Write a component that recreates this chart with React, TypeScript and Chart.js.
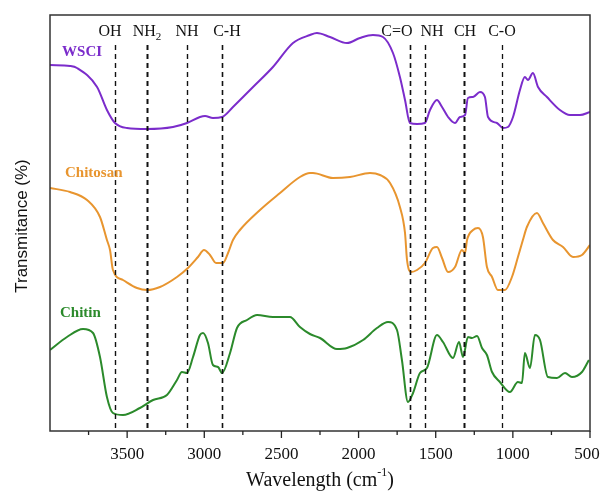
import React, { useEffect, useRef } from "react";
import Chart from "chart.js/auto";

// Wavenumbers (cm-1) and transmittance (arbitrary units)
const wsciX = [4000, 3870, 3825, 3695, 3631, 3579, 3501, 3371, 3203, 3112, 3028, 2995, 2944, 2885, 2814, 2684, 2555, 2425, 2315, 2270, 2185, 2075, 1991, 1907, 1842, 1777, 1732, 1699, 1667, 1621, 1570, 1537, 1492, 1459, 1420, 1375, 1343, 1310, 1291, 1258, 1213, 1181, 1161, 1103, 1064, 1032, 999, 954, 922, 902, 870, 837, 779, 695, 630, 565, 500];
const wsciY = [366, 365, 363, 344, 321, 308, 303, 302, 304, 308, 314, 315, 313, 314, 324, 344, 364, 388, 396, 398, 394, 388, 393, 396, 394, 378, 354, 331, 308, 307, 308, 321, 331, 324, 314, 308, 314, 316, 333, 334, 339, 334, 314, 308, 303, 304, 314, 341, 354, 351, 358, 344, 334, 321, 316, 316, 319];

const chitosanX = [4000, 3870, 3760, 3676, 3631, 3611, 3592, 3527, 3436, 3371, 3287, 3177, 3106, 3041, 3002, 2963, 2924, 2879, 2846, 2814, 2769, 2639, 2509, 2380, 2315, 2296, 2166, 2056, 1926, 1861, 1796, 1732, 1699, 1686, 1660, 1621, 1570, 1518, 1492, 1459, 1420, 1375, 1330, 1310, 1297, 1258, 1226, 1194, 1168, 1135, 1097, 1051, 1006, 967, 935, 909, 844, 805, 740, 675, 610, 552, 500];
const chitosanY = [243, 239, 231, 214, 191, 181, 161, 151, 143, 141, 144, 154, 163, 174, 181, 176, 168, 168, 178, 191, 201, 221, 238, 254, 258, 258, 253, 254, 258, 256, 248, 224, 198, 171, 159, 161, 168, 183, 184, 173, 159, 164, 181, 178, 191, 201, 203, 194, 164, 154, 141, 141, 154, 174, 191, 204, 218, 208, 191, 184, 174, 176, 186];

const chitinX = [4000, 3890, 3786, 3721, 3676, 3631, 3592, 3527, 3417, 3332, 3242, 3177, 3145, 3112, 3073, 3028, 3008, 2976, 2944, 2911, 2885, 2833, 2788, 2723, 2658, 2555, 2445, 2380, 2315, 2250, 2140, 2075, 1971, 1881, 1809, 1751, 1719, 1680, 1647, 1602, 1557, 1492, 1453, 1388, 1349, 1323, 1291, 1265, 1232, 1200, 1168, 1135, 1084, 1019, 967, 941, 922, 889, 857, 824, 773, 714, 662, 617, 552, 507];
const chitinY = [81, 94, 102, 98, 74, 34, 18, 16, 23, 31, 36, 51, 59, 58, 74, 96, 98, 88, 66, 64, 58, 78, 103, 111, 116, 114, 114, 104, 97, 93, 82, 83, 91, 103, 109, 101, 71, 29, 38, 58, 63, 96, 89, 73, 89, 74, 94, 93, 95, 83, 76, 59, 49, 39, 49, 48, 78, 63, 96, 91, 54, 53, 58, 54, 59, 71];

const seriesNames = ["WSCI", "Chitosan", "Chitin"];
const seriesColors = ["#7b2ccb", "#e8952f", "#2b8a2b"];
const seriesLabelX = [3922, 3903, 3935];
const seriesLabelY = [379, 258, 118];

const bandPositions = [3580, 3370, 3110, 2885, 1667, 1570, 1317, 1070];
const bandLabels = ["OH", "NH2", "NH", "C-H", "C=O", "NH", "CH", "C-O"];
const bandLabelX = [3611, 3371, 3112, 2853, 1751, 1524, 1310, 1071];
const bandWidths = [1.4, 2, 1.4, 1.6, 1.6, 1.4, 2, 1.3];
const bandTop = 386;

const majorTicks = [3500, 3000, 2500, 2000, 1500, 1000, 500];
const minorTicks = [3750, 3250, 2750, 2250, 1750, 1250, 750];

const xTitle = "Wavelength (cm";
const yTitle = "Transmitance (%)";

function toPoints(xs: number[], ys: number[]) {
  return xs.map((x, i) => ({ x, y: ys[i] }));
}

const decorPlugin = {
  id: "decor",
  afterDatasetsDraw(chart: any) {
    const { ctx, chartArea } = chart;
    const xs = chart.scales.x;
    const ys = chart.scales.y;
    const { left, right, top, bottom } = chartArea;
    ctx.save();

    // dashed band lines
    ctx.strokeStyle = "#111";
    ctx.setLineDash([5, 4]);
    bandPositions.forEach((p, i) => {
      const px = Math.round(xs.getPixelForValue(p)) + 0.5;
      ctx.lineWidth = bandWidths[i];
      ctx.beginPath();
      ctx.moveTo(px, ys.getPixelForValue(bandTop));
      ctx.lineTo(px, bottom);
      ctx.stroke();
    });
    ctx.setLineDash([]);

    // band labels
    ctx.fillStyle = "#111";
    ctx.textBaseline = "alphabetic";
    const labelBase = top + 21;
    bandLabels.forEach((lab, i) => {
      const cx = xs.getPixelForValue(bandLabelX[i]);
      ctx.font = '16px "Liberation Serif", "Times New Roman", serif';
      if (lab === "NH2") {
        const w1 = ctx.measureText("NH").width;
        ctx.font = '11px "Liberation Serif", "Times New Roman", serif';
        const w2 = ctx.measureText("2").width;
        const start = cx - (w1 + w2) / 2;
        ctx.textAlign = "left";
        ctx.font = '16px "Liberation Serif", "Times New Roman", serif';
        ctx.fillText("NH", start, labelBase);
        ctx.font = '11px "Liberation Serif", "Times New Roman", serif';
        ctx.fillText("2", start + w1, labelBase + 4);
      } else {
        ctx.textAlign = "center";
        ctx.fillText(lab, cx, labelBase);
      }
    });

    // series labels
    ctx.font = 'bold 15px "Liberation Serif", "Times New Roman", serif';
    ctx.textAlign = "left";
    ctx.textBaseline = "middle";
    seriesNames.forEach((n, i) => {
      ctx.fillStyle = seriesColors[i];
      ctx.fillText(n, xs.getPixelForValue(seriesLabelX[i]), ys.getPixelForValue(seriesLabelY[i]));
    });

    // frame
    ctx.strokeStyle = "#333";
    ctx.lineWidth = 1.5;
    ctx.strokeRect(left, top, right - left, bottom - top);

    // ticks
    ctx.lineWidth = 1.3;
    ctx.strokeStyle = "#222";
    majorTicks.forEach((t) => {
      const px = xs.getPixelForValue(t);
      ctx.beginPath();
      ctx.moveTo(px, bottom);
      ctx.lineTo(px, bottom + 7);
      ctx.stroke();
    });
    minorTicks.forEach((t) => {
      const px = xs.getPixelForValue(t);
      ctx.beginPath();
      ctx.moveTo(px, bottom);
      ctx.lineTo(px, bottom + 4);
      ctx.stroke();
    });

    // tick labels
    ctx.fillStyle = "#111";
    ctx.font = '17px "Liberation Serif", "Times New Roman", serif';
    ctx.textAlign = "center";
    ctx.textBaseline = "middle";
    majorTicks.forEach((t) => {
      let px = xs.getPixelForValue(t);
      if (t === 500) px -= 3;
      ctx.fillText(String(t), px, bottom + 24);
    });

    // x title
    ctx.font = '20px "Liberation Serif", "Times New Roman", serif';
    const w1 = ctx.measureText(xTitle).width;
    ctx.font = '12px "Liberation Serif", "Times New Roman", serif';
    const wSup = ctx.measureText("-1").width;
    ctx.font = '20px "Liberation Serif", "Times New Roman", serif';
    const wP = ctx.measureText(")").width;
    const total = w1 + wSup + wP;
    const cx = (left + right) / 2;
    const ty = bottom + 50;
    const sx = cx - total / 2;
    ctx.textAlign = "left";
    ctx.fillText(xTitle, sx, ty);
    ctx.font = '12px "Liberation Serif", "Times New Roman", serif';
    ctx.fillText("-1", sx + w1, ty - 8);
    ctx.font = '20px "Liberation Serif", "Times New Roman", serif';
    ctx.fillText(")", sx + w1 + wSup, ty);

    // y title
    ctx.save();
    ctx.translate(22, (top + bottom) / 2 + 3);
    ctx.rotate(-Math.PI / 2);
    ctx.font = '17px "Liberation Sans", Arial, sans-serif';
    ctx.textAlign = "center";
    ctx.textBaseline = "middle";
    ctx.fillText(yTitle, 0, 0);
    ctx.restore();

    ctx.restore();
  },
};

export default function App() {
  const ref = useRef<HTMLCanvasElement | null>(null);
  useEffect(() => {
    document.body.style.margin = "0";
    const canvas = ref.current!;
    const chart = new Chart(canvas, {
      type: "line",
      data: {
        datasets: [
          { label: seriesNames[0], data: toPoints(wsciX, wsciY), borderColor: seriesColors[0] },
          { label: seriesNames[1], data: toPoints(chitosanX, chitosanY), borderColor: seriesColors[1] },
          { label: seriesNames[2], data: toPoints(chitinX, chitinY), borderColor: seriesColors[2] },
        ].map((d) => ({
          ...d,
          borderWidth: 2,
          pointRadius: 0,
          fill: false,
          tension: 0.35,
          cubicInterpolationMode: "monotone" as const,
        })),
      },
      options: {
        animation: false,
        responsive: false,
        maintainAspectRatio: false,
        layout: { padding: { left: 50, top: 15, right: 16, bottom: 63 } },
        plugins: { legend: { display: false }, tooltip: { enabled: false } },
        scales: {
          x: { type: "linear", min: 500, max: 4000, reverse: true, display: false },
          y: { type: "linear", min: 0, max: 416, display: false },
        },
      },
      plugins: [decorPlugin],
    });
    return () => chart.destroy();
  }, []);
  return (
    <div style={{ width: 606, height: 494, background: "#fff" }}>
      <canvas ref={ref} width={606} height={494} />
    </div>
  );
}
